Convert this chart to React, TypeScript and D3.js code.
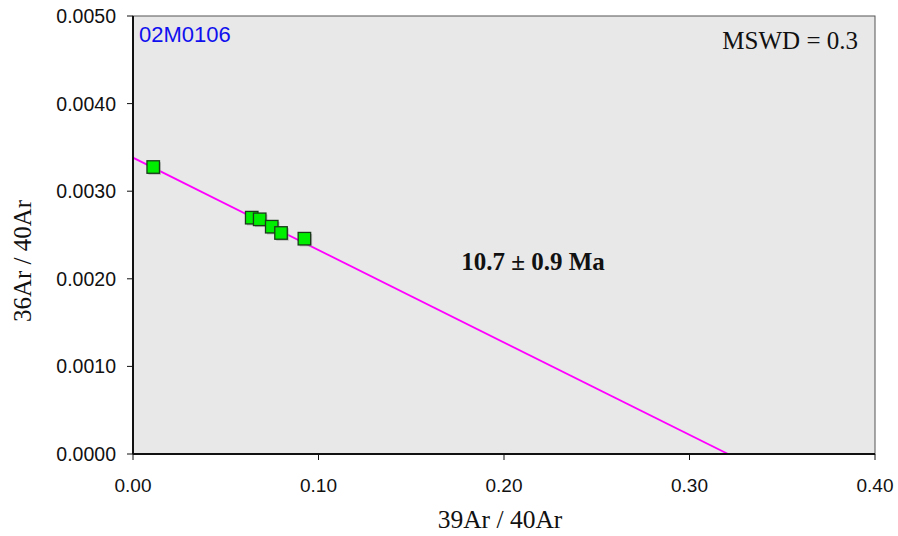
import React from "react";
import * as d3 from "d3";

const ratio39: number[] = [0.0109, 0.064, 0.0683, 0.0748, 0.0798, 0.0924];
const ratio36: number[] = [0.003276, 0.002698, 0.002679, 0.002595, 0.002523, 0.002458];
const lineX: number[] = [0, 0.3208];
const lineY: number[] = [0.003383, 0];
const xTicks: number[] = [0, 0.1, 0.2, 0.3, 0.4];
const yTicks: number[] = [0, 0.001, 0.002, 0.003, 0.004, 0.005];
const sampleName = "02M0106";
const mswdText = "MSWD = 0.3";
const ageText = "10.7 ± 0.9 Ma";

const W = 898, H = 536;
const L = 133, R = 875, T = 16, B = 454;

export default function App() {
  const x = d3.scaleLinear().domain([0, 0.4]).range([L, R]);
  const y = d3.scaleLinear().domain([0, 0.005]).range([B, T]);
  const line = d3.line<number>().x((_, i) => x(lineX[i])).y((_, i) => y(lineY[i]));
  const s = 12.5;
  return (
    <svg width={W} height={H} style={{ position: "absolute", left: 0, top: 0 }}>
      <defs>
        <clipPath id="plot"><rect x={L} y={T} width={R - L} height={B - T} /></clipPath>
      </defs>
      <rect x={L} y={T} width={R - L} height={B - T} fill="#e8e8e8" stroke="#555" strokeWidth={1} />
      <path d={line(lineX) || ""} stroke="#ff00ff" strokeWidth={1.8} fill="none" clipPath="url(#plot)" />
      {ratio39.map((v, i) => (
        <g key={i}>
          <rect x={x(v) - s / 2 + 1.5} y={y(ratio36[i]) - s / 2 + 1.5} width={s} height={s} fill="#9a9a9a" opacity={0.6} />
          <rect x={x(v) - s / 2} y={y(ratio36[i]) - s / 2} width={s} height={s} fill="#00ee00" stroke="#1a3a1a" strokeWidth={1.3} />
        </g>
      ))}
      <line x1={L} x2={L} y1={T} y2={B} stroke="#111" strokeWidth={2} />
      <line x1={L} x2={R} y1={B} y2={B} stroke="#111" strokeWidth={2} />
      {yTicks.map((t) => (
        <g key={"y" + t}>
          <line x1={L - 6} x2={L} y1={y(t)} y2={y(t)} stroke="#111" strokeWidth={1} />
          <text x={L - 17} y={y(t)} dy="0.36em" textAnchor="end" fontFamily="Liberation Sans, Arial" fontSize={19.5} fill="#111">
            {t.toFixed(4)}
          </text>
        </g>
      ))}
      {xTicks.map((t) => (
        <g key={"x" + t}>
          <line x1={x(t)} x2={x(t)} y1={B} y2={B + 6} stroke="#111" strokeWidth={1} />
          <text x={x(t)} y={492} textAnchor="middle" fontFamily="Liberation Sans, Arial" fontSize={19} fill="#111">
            {t.toFixed(2)}
          </text>
        </g>
      ))}
      <text x={500} y={528} textAnchor="middle" fontFamily="Liberation Serif, Times New Roman" fontSize={25.5} fill="#111">
        39Ar / 40Ar
      </text>
      <text transform={`translate(31, 261) rotate(-90)`} textAnchor="middle" fontFamily="Liberation Serif, Times New Roman" fontSize={25} fill="#111">
        36Ar / 40Ar
      </text>
      <text x={139} y={42} fontFamily="Liberation Sans, Arial" fontSize={22} fill="#1010ee">{sampleName}</text>
      <text x={858} y={49} textAnchor="end" fontFamily="Liberation Serif, Times New Roman" fontSize={25} fill="#111">{mswdText}</text>
      <text x={533} y={270} textAnchor="middle" fontFamily="Liberation Serif, Times New Roman" fontSize={25} fontWeight="bold" fill="#111">{ageText}</text>
    </svg>
  );
}
